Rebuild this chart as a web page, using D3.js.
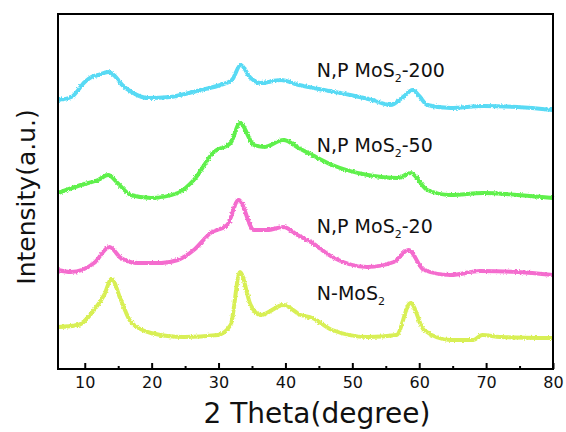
<!DOCTYPE html>
<html>
<head>
<meta charset="utf-8">
<script src="https://cdn.jsdelivr.net/npm/d3@7"></script>
<style>
  body { margin: 0; background: #fff; }
  text { font-family: "DejaVu Sans", Verdana, sans-serif; }
</style>
</head>
<body>
<div id="graph"></div>
<script>
// 2 theta positions and intensities (a.u., offset stacked)
const theta200 = [6,8,10,11,12,13.5,14.5,15.6,17,19.4,22.8,25,27.3,30.3,32,33.3,34.8,36.3,39.3,42,45,49.7,53,55.7,57.6,59,60,61.2,64.7,69.6,74.7,80];
const int200   = [269,272,287,292,294,297,293,284,277,271,272,275,279,284,289,304,291,286,289,284,280,274,269,264,272,279,273,264,261,263,262,259];

const theta50 = [6,9.4,12,13.5,14.9,16.9,19.9,23.9,26.3,29.3,31.8,33.2,35.3,36.8,39.7,42,44,47,52.3,56.8,58.7,61.2,64.7,69.6,74.7,80];
const int50   = [176,184,189,194,186,174,171,176,189,217,226,246,224,222,229,221,214,204,194,191,196,179,174,176,174,171];

const theta20 = [6,7.9,11.4,13.7,15.4,17.9,21.4,23.9,26.3,28.8,31.3,33,35.3,37.3,39.7,41.8,43.8,47,52.3,56.2,58.4,60.7,64.7,69.1,74.7,80];
const int20   = [99,97,106,122,111,106,106,109,119,136,144,169,139,139,142,134,127,112,102,107,119,99,94,98,97,94];

const thetaN = [6,9,11.4,12.9,14,15.4,16.9,19.9,24.8,29.9,31.8,33.2,34.8,36.3,39.7,42.3,44,47,52.3,56.6,58.7,60.7,64.7,68.1,69.4,72.1,80];
const intN   = [42,44,59,74,90,69,47,36,32,34,44,97,64,54,64,54,51,39,32,34,66,39,29,29,34,32,31];

const seriesNames = ["N,P MoS2-200", "N,P MoS2-50", "N,P MoS2-20", "N-MoS2"];
const seriesColors = ["#58daf4", "#5ef04c", "#f46cce", "#d8ef55"];
const xTicks = [10,20,30,40,50,60,70,80];
const xMinor = [15,25,35,45,55,65,75];

const series = [
  {name: seriesNames[0], color: seriesColors[0], x: theta200, y: int200, labelX: 44.7, labelY: 292},
  {name: seriesNames[1], color: seriesColors[1], x: theta50,  y: int50,  labelX: 44.7, labelY: 217},
  {name: seriesNames[2], color: seriesColors[2], x: theta20,  y: int20,  labelX: 44.7, labelY: 136},
  {name: seriesNames[3], color: seriesColors[3], x: thetaN,   y: intN,   labelX: 44.7, labelY: 69}
];

const width = 566, height = 432;
const margin = {top: 14, right: 13, bottom: 63, left: 58};
const innerW = width - margin.left - margin.right;
const innerH = height - margin.top - margin.bottom;

const svg = d3.select("#graph").append("svg")
  .attr("width", width).attr("height", height);

// slight roughness so the traces look like measured data
const defs = svg.append("defs");
const rough = defs.append("filter").attr("id", "rough")
  .attr("x", "-5%").attr("y", "-20%").attr("width", "110%").attr("height", "140%");
rough.append("feTurbulence").attr("type", "fractalNoise")
  .attr("baseFrequency", 0.6).attr("numOctaves", 2).attr("seed", 3).attr("result", "n");
rough.append("feDisplacementMap").attr("in", "SourceGraphic").attr("in2", "n")
  .attr("scale", 3).attr("xChannelSelector", "R").attr("yChannelSelector", "G");

const g = svg.append("g").attr("transform", `translate(${margin.left},${margin.top})`);

const xScale = d3.scaleLinear().domain([6, 80]).range([0, innerW]);
const yScale = d3.scaleLinear().domain([0, 355]).range([innerH, 0]);

const line = d3.line()
  .x(d => xScale(d[0]))
  .y(d => yScale(d[1]))
  .curve(d3.curveMonotoneX);

series.forEach(s => {
  g.append("path")
    .datum(s.x.map((t, i) => [t, s.y[i]]))
    .attr("d", line)
    .attr("fill", "none")
    .attr("stroke", s.color)
    .attr("stroke-width", 4)
    .attr("stroke-linejoin", "round")
    .attr("filter", "url(#rough)");
});

// labels with subscript 2
series.forEach(s => {
  const parts = s.name.split("2");
  const t = g.append("text")
    .attr("x", xScale(s.labelX))
    .attr("y", yScale(s.labelY))
    .attr("font-size", 19)
    .attr("fill", "#111");
  t.append("tspan").text(parts[0]);
  t.append("tspan").attr("font-size", 11).attr("dy", 5).text("2");
  t.append("tspan").attr("dy", -5).text(parts.slice(1).join("2"));
});

// x axis
const xAxis = d3.axisBottom(xScale).tickValues(xTicks).tickSizeInner(-6).tickSizeOuter(0).tickPadding(8);
const ax = g.append("g").attr("transform", `translate(0,${innerH})`).call(xAxis);
ax.select(".domain").remove();
ax.selectAll(".tick line").attr("stroke", "#000").attr("stroke-width", 2);
ax.selectAll(".tick text").attr("font-size", 16).attr("fill", "#111")
  .style("font-family", "DejaVu Sans, Verdana, sans-serif");

const minor = d3.axisBottom(xScale).tickValues(xMinor).tickSizeInner(-3).tickSizeOuter(0).tickFormat("");
const mx = g.append("g").attr("transform", `translate(0,${innerH})`).call(minor);
mx.select(".domain").remove();
mx.selectAll(".tick line").attr("stroke", "#000").attr("stroke-width", 2);

// frame
g.append("rect")
  .attr("width", innerW).attr("height", innerH)
  .attr("fill", "none").attr("stroke", "#000").attr("stroke-width", 2);

// axis titles
svg.append("text")
  .attr("x", 317)
  .attr("y", 423)
  .attr("text-anchor", "middle")
  .attr("font-size", 28)
  .attr("fill", "#111")
  .text("2 Theta(degree)");

svg.append("text")
  .attr("transform", `translate(35,${197}) rotate(-90)`)
  .attr("text-anchor", "middle")
  .attr("font-size", 25)
  .attr("fill", "#111")
  .text("Intensity(a.u.)");
</script>
</body>
</html>
